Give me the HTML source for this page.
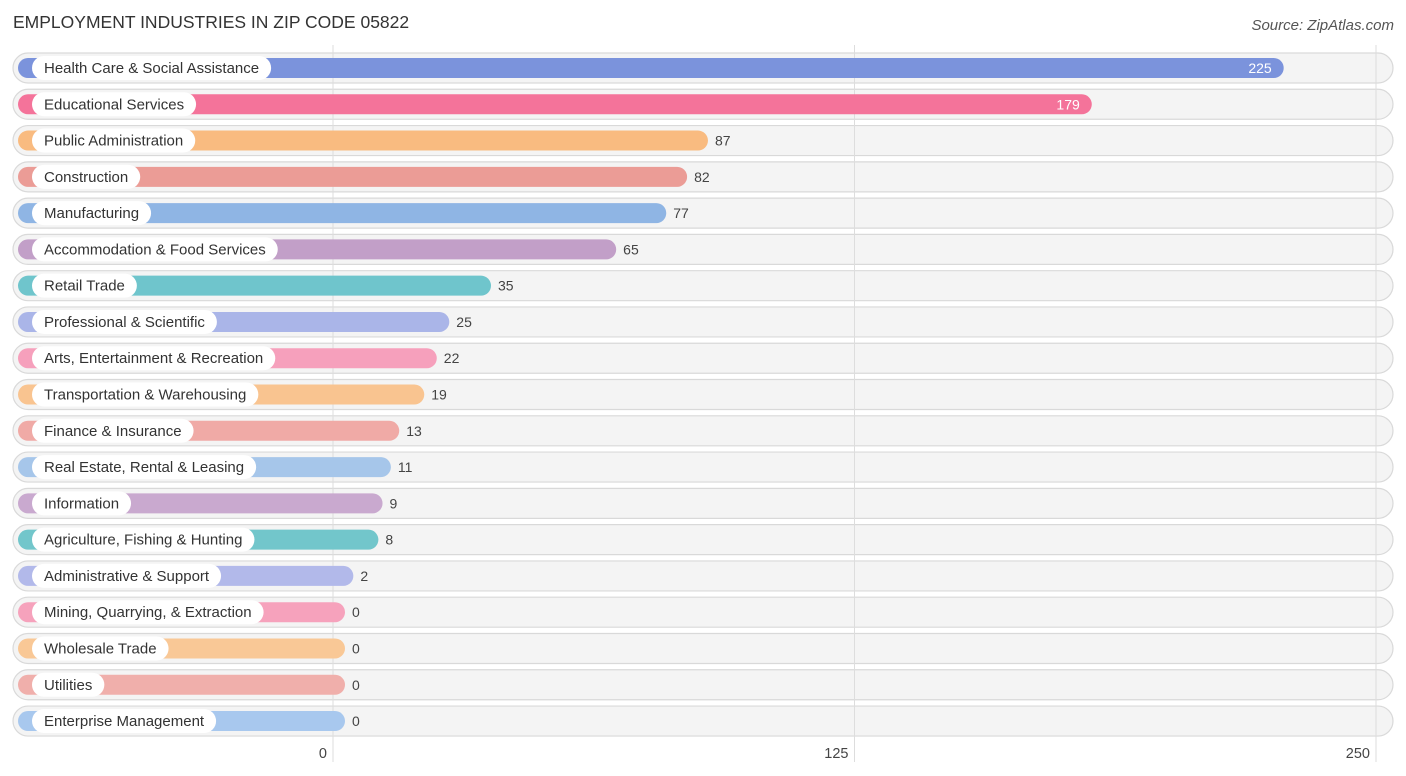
<!DOCTYPE html>
<html><head><meta charset="utf-8"><style>
body{margin:0;background:#fff;font-family:"Liberation Sans",sans-serif;}
svg{display:block}
</style></head><body>
<svg id="chart" width="1406" height="776" xmlns="http://www.w3.org/2000/svg">
<text x="13" y="28" font-size="17.5" fill="#333">EMPLOYMENT INDUSTRIES IN ZIP CODE 05822</text>
<text x="1394" y="30" font-size="15" fill="#555" font-style="italic" text-anchor="end">Source: ZipAtlas.com</text>
<g id="rowbg"></g><g id="grid"></g><g id="rows"></g><g id="ticks"></g>
</svg>
<script>
const categories=["Health Care & Social Assistance","Educational Services","Public Administration","Construction","Manufacturing","Accommodation & Food Services","Retail Trade","Professional & Scientific","Arts, Entertainment & Recreation","Transportation & Warehousing","Finance & Insurance","Real Estate, Rental & Leasing","Information","Agriculture, Fishing & Hunting","Administrative & Support","Mining, Quarrying, & Extraction","Wholesale Trade","Utilities","Enterprise Management"];
const values=[225,179,87,82,77,65,35,25,22,19,13,11,9,8,2,0,0,0,0];
const tickValues=[0,125,250];
const colors=["#7b93dc","#f4739a","#f9bb80","#eb9c96","#8fb5e4","#c29fc8","#6fc5cc","#aab5e8","#f6a0bc","#f9c490","#f0aaa6","#a6c6ea","#c9a9cf","#72c6cb","#b2b9ea","#f6a2bc","#f9c896","#f0afab","#a8c8ee"];
const NS="http://www.w3.org/2000/svg";
const x0=333,x1=1376,vmax=250;
const xs=v=>x0+(v/vmax)*(x1-x0);
const rowY=i=>68+i*36.28;
function mk(tag,attrs,parent){const e=document.createElementNS(NS,tag);for(const k in attrs)e.setAttribute(k,attrs[k]);parent.appendChild(e);return e;}
const rowbg=document.getElementById('rowbg'),grid=document.getElementById('grid'),rows=document.getElementById('rows'),ticks=document.getElementById('ticks');
categories.forEach((c,i)=>{
 const y=rowY(i);
 const bg=mk('rect',{x:13,y:y-15,width:1380,height:30,rx:15,fill:'#f4f4f4',stroke:'#d9d9d9','stroke-width':1.2},rowbg);
 
 
});
tickValues.forEach(t=>{
 const l=mk('line',{x1:xs(t),x2:xs(t),y1:45,y2:762,stroke:'#ddd','stroke-width':1},grid);
 
 
 const tx=mk('text',{x:xs(t)-6,y:758,'font-size':14.5,fill:'#444','text-anchor':'end'},ticks);
 tx.textContent=t;
 
 
});
categories.forEach((c,i)=>{
 const y=rowY(i);
 const g=mk('g',{},rows);
 
 
 const end=xs(values[i])+12;
 const bar=mk('rect',{x:18,y:y-10,width:end-18,height:20,rx:10,fill:colors[i]},g);
 
 
 const pill=mk('rect',{x:32,y:y-12,width:100,height:24,rx:12,fill:'#fff'},g);
 
 
 const lt=mk('text',{x:44,y:y+5,'font-size':15,fill:'#333'},g);
 lt.textContent=c;
 
 
 let w=c.length*7.3;
 try{w=lt.getComputedTextLength();}catch(e){}
 pill.setAttribute('width',w+24);
 const inside=values[i]>150;
 const vt=mk('text',{x:inside?end-12:end+7,y:y+5,'font-size':14,fill:inside?'#fff':'#444','text-anchor':inside?'end':'start'},g);
 vt.textContent=values[i];
 
 
});
</script>
</body></html>
